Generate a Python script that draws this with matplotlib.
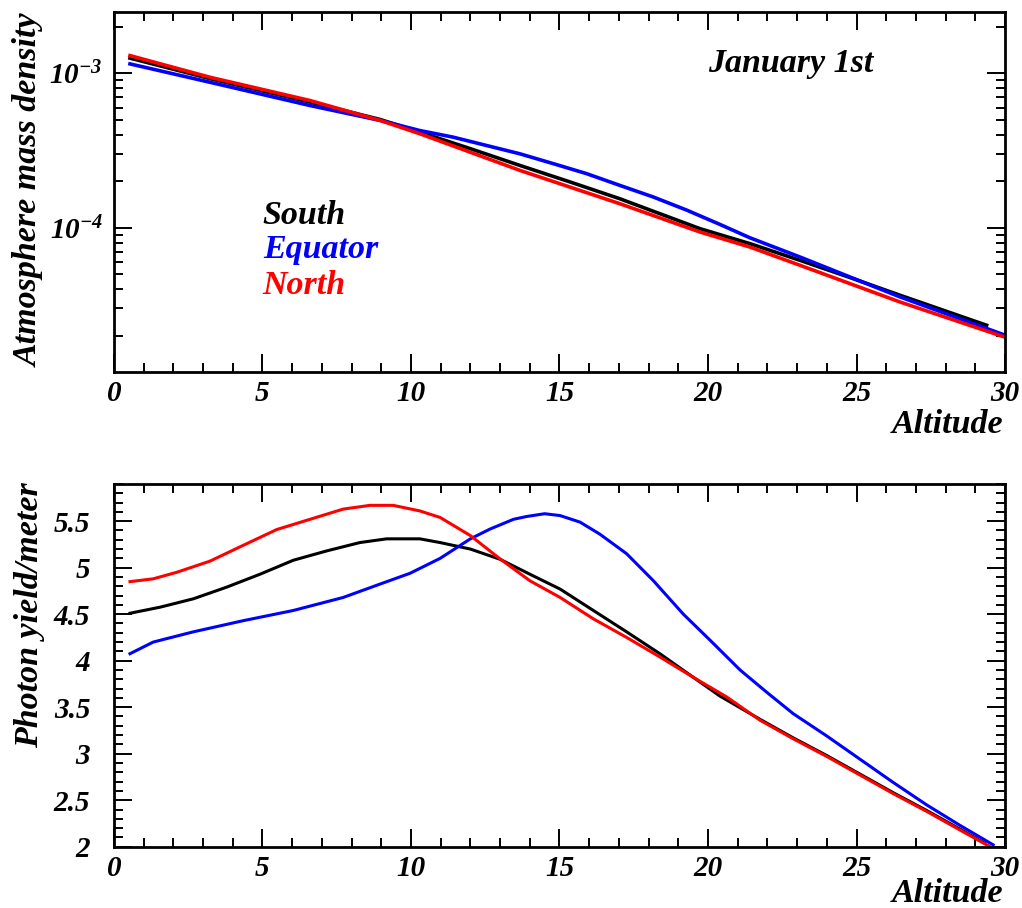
import math

import matplotlib
matplotlib.use("Agg")
import matplotlib.pyplot as plt
from matplotlib.ticker import FixedLocator, LogLocator, MultipleLocator, NullFormatter, FuncFormatter

# --- data (altitude in km) ---
dens_south_x = [0.54, 3.23, 6.6, 8.97, 10.30, 11.98, 13.67, 15.35, 17.03, 19.73, 21.41,
                23.10, 24.78, 26.46, 29.38]
dens_south_y = [1.256e-3, 9.25e-4, 6.52e-4, 5.02e-4, 4.16e-4, 3.26e-4, 2.53e-4, 1.98e-4,
                1.54e-4, 9.85e-5, 7.88e-5, 6.14e-5, 4.75e-5, 3.65e-5, 2.33e-5]

dens_equator_x = [0.54, 3.23, 6.6, 8.97, 10.30, 11.42, 12.54, 13.67, 14.79, 15.91, 17.03,
                  18.16, 19.28, 20.40, 21.41, 23.10, 24.78, 26.46, 28.15, 30.0]
dens_equator_y = [1.152e-3, 8.76e-4, 6.19e-4, 4.95e-4, 4.26e-4, 3.86e-4, 3.41e-4, 3.01e-4,
                  2.60e-4, 2.24e-4, 1.88e-4, 1.58e-4, 1.30e-4, 1.05e-4, 8.6e-5, 6.45e-5,
                  4.79e-5, 3.56e-5, 2.71e-5, 2.01e-5]

dens_north_x = [0.54, 3.23, 6.6, 8.97, 10.30, 13.67, 17.03, 19.73, 21.41, 23.10, 26.46, 30.0]
dens_north_y = [1.304e-3, 9.44e-4, 6.67e-4, 4.95e-4, 4.06e-4, 2.35e-4, 1.43e-4, 9.37e-5,
                7.49e-5, 5.70e-5, 3.30e-5, 1.95e-5]

yield_south_x = [0.54, 1.55, 2.67, 3.79, 4.92, 6.04, 7.16, 8.28, 9.18, 10.3, 10.98, 12, 13, 14,
                 15.02, 16.14, 17.26, 18.38, 19.51, 20.4, 21.75, 22.87, 24.0, 25.12, 26.24,
                 27.36, 28.48, 29.3]
yield_south_y = [4.51, 4.575, 4.665, 4.79, 4.93, 5.08, 5.18, 5.27, 5.31, 5.31, 5.27, 5.20, 5.09,
                 4.93, 4.77, 4.54, 4.31, 4.075, 3.82, 3.62, 3.37, 3.17, 2.98, 2.78, 2.58, 2.39,
                 2.19, 2.04]

yield_equator_x = [0.54, 1.32, 2.67, 4.35, 6.04, 7.72, 8.84, 9.97, 10.98, 12, 12.66, 13.45,
                   13.89, 14.5, 15.02, 15.69, 16.36, 17.26, 18.16, 19.17, 20.07, 21.08, 21.98,
                   22.87, 24.0, 25.12, 26.24, 27.36, 28.48, 29.6]
yield_equator_y = [4.075, 4.20, 4.31, 4.43, 4.54, 4.68, 4.81, 4.94, 5.10, 5.31, 5.415, 5.52,
                   5.55, 5.58, 5.56, 5.49, 5.36, 5.15, 4.86, 4.50, 4.22, 3.90, 3.66, 3.43,
                   3.19, 2.94, 2.69, 2.45, 2.23, 2.02]

yield_north_x = [0.54, 1.32, 2.11, 3.23, 4.35, 5.48, 6.6, 7.72, 8.62, 9.40, 10.3, 10.98, 12, 13,
                 14, 15.02, 16.14, 17.26, 18.38, 19.51, 20.63, 21.75, 22.87, 24.0, 25.12,
                 26.24, 27.36, 28.48, 29.27, 29.5]
yield_north_y = [4.85, 4.88, 4.95, 5.07, 5.24, 5.41, 5.52, 5.63, 5.67, 5.67, 5.61, 5.54, 5.345,
                 5.094, 4.86, 4.68, 4.45, 4.25, 4.04, 3.82, 3.61, 3.36, 3.16, 2.97, 2.77, 2.57,
                 2.38, 2.18, 2.04, 2.0]

C_SOUTH, C_EQ, C_NORTH = "#000000", "#0000ff", "#ff0000"

plt.rcParams.update({
    "font.family": "Liberation Serif",
    "font.weight": "bold",
    "font.style": "italic",
    "mathtext.fontset": "custom",
    "mathtext.rm": "Liberation Serif:bold:italic",
    "mathtext.it": "Liberation Serif:bold:italic",
    "mathtext.bf": "Liberation Serif:bold:italic",
    "axes.linewidth": 2.0,
})

TICK_FS = 21
TITLE_FS = 24.5


def style_axes(ax):
    ax.tick_params(which="both", direction="in", top=True, right=True,
                   labelsize=TICK_FS, width=1.4)
    ax.tick_params(which="major", length=13)
    ax.tick_params(which="minor", length=6.5)
    ax.tick_params(axis="x", which="major", pad=6)
    ax.set_xlim(0, 30)
    ax.xaxis.set_major_locator(MultipleLocator(5))
    ax.xaxis.set_minor_locator(MultipleLocator(1))


fig = plt.figure(figsize=(10.22, 9.08), dpi=100)
ax1 = fig.add_axes([0.1115, 0.5903, 0.8719, 0.3965])
ax2 = fig.add_axes([0.1115, 0.0675, 0.8719, 0.3995])

# top panel: density
ax1.plot(dens_south_x, dens_south_y, color=C_SOUTH, lw=2.6)
ax1.plot(dens_equator_x, dens_equator_y, color=C_EQ, lw=2.6)
ax1.plot(dens_north_x, dens_north_y, color=C_NORTH, lw=2.6)
ax1.set_yscale("log")
ax1.set_ylim(1.16e-5, 2.5e-3)
ax1.yaxis.set_major_locator(FixedLocator([1e-4, 1e-3]))
ax1.yaxis.set_minor_locator(LogLocator(base=10, subs=range(2, 10)))
ax1.yaxis.set_minor_formatter(NullFormatter())
ax1.yaxis.set_major_formatter(FuncFormatter(lambda v, p: r"$10^{%d}$" % round(math.log10(v))))
style_axes(ax1)
ax1.tick_params(axis="y", which="major", pad=8)

ax1.text(0.759, 0.858, "January 1st", transform=ax1.transAxes, ha="center", va="center",
         fontsize=TITLE_FS)
ax1.text(0.167, 0.436, "South", transform=ax1.transAxes, ha="left", va="center",
         fontsize=TITLE_FS, color=C_SOUTH)
ax1.text(0.167, 0.339, "Equator", transform=ax1.transAxes, ha="left", va="center",
         fontsize=TITLE_FS, color=C_EQ)
ax1.text(0.167, 0.239, "North", transform=ax1.transAxes, ha="left", va="center",
         fontsize=TITLE_FS, color=C_NORTH)
ax1.text(0.998, -0.145, "Altitude", transform=ax1.transAxes, ha="right", va="center",
         fontsize=TITLE_FS)

# bottom panel: photon yield
ax2.plot(yield_south_x, yield_south_y, color=C_SOUTH, lw=2.2)
ax2.plot(yield_equator_x, yield_equator_y, color=C_EQ, lw=2.2)
ax2.plot(yield_north_x, yield_north_y, color=C_NORTH, lw=2.2)
ax2.set_ylim(2.0, 5.9)
ax2.yaxis.set_major_locator(MultipleLocator(0.5))
ax2.yaxis.set_minor_locator(MultipleLocator(0.1))
ax2.yaxis.set_major_formatter(FuncFormatter(lambda v, p: f"{v:g}"))
style_axes(ax2)
ax2.tick_params(axis="y", which="major", pad=17)
ax2.text(0.998, -0.13, "Altitude", transform=ax2.transAxes, ha="right", va="center",
         fontsize=TITLE_FS)

fig.text(0.029, 0.791, "Atmosphere mass density", rotation=90, ha="center", va="center",
         fontsize=TITLE_FS)
fig.text(0.029, 0.322, "Photon yield/meter", rotation=90, ha="center", va="center",
         fontsize=TITLE_FS)

fig.savefig("out.png", dpi=100)
